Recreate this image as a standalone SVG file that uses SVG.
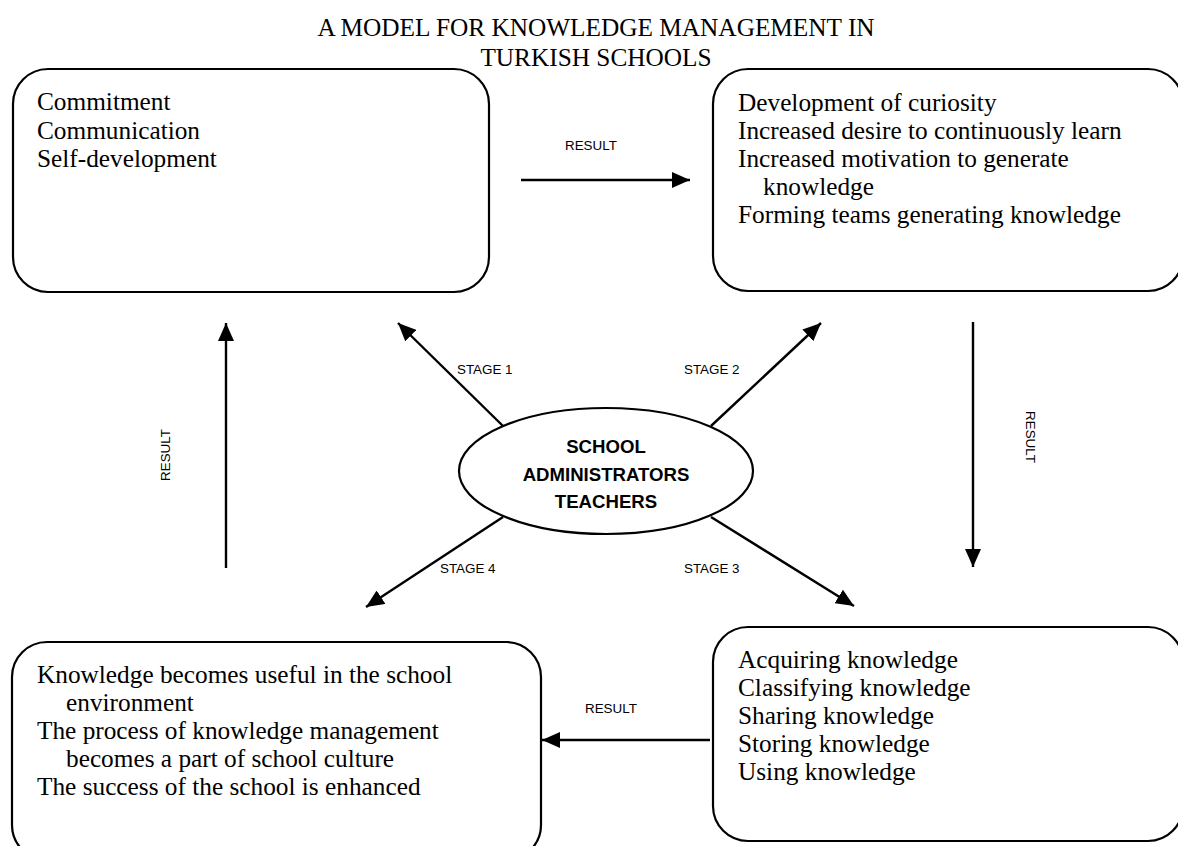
<svg xmlns="http://www.w3.org/2000/svg" width="1178" height="846" viewBox="0 0 1178 846">
<style>
.box{fill:#fff;stroke:#000;stroke-width:2.2}
.serif{font-family:"Liberation Serif","Times New Roman",serif;font-size:25.3px;fill:#000}
.lbl{font-family:"Liberation Sans",Arial,sans-serif;font-size:13.4px;fill:#000}
.ctr{font-family:"Liberation Sans",Arial,sans-serif;font-size:18.6px;font-weight:bold;fill:#000;text-anchor:middle}
.conn{stroke:#000;stroke-width:2.4;fill:none}
</style>
<defs>
<marker id="ah" viewBox="0 0 18 16" refX="18" refY="8" markerWidth="18" markerHeight="16" markerUnits="userSpaceOnUse" orient="auto">
<path d="M0,0 L18,8 L0,16 z" fill="#000"/>
</marker>
</defs>
<rect width="1178" height="846" fill="#fff"/>
<g id="title">
<text class="serif" x="596" y="36" text-anchor="middle">A MODEL FOR KNOWLEDGE MANAGEMENT IN</text>
<text class="serif" x="596" y="66" text-anchor="middle">TURKISH SCHOOLS</text>
</g>
<g id="connectors">
<line class="conn" x1="521" y1="180" x2="690" y2="180" marker-end="url(#ah)"/>
<line class="conn" x1="973" y1="322" x2="973" y2="567" marker-end="url(#ah)"/>
<line class="conn" x1="710" y1="740" x2="542" y2="740" marker-end="url(#ah)"/>
<line class="conn" x1="226" y1="568" x2="226" y2="323" marker-end="url(#ah)"/>
<line class="conn" x1="503" y1="426" x2="398" y2="323" marker-end="url(#ah)"/>
<line class="conn" x1="711" y1="426" x2="821" y2="323" marker-end="url(#ah)"/>
<line class="conn" x1="711" y1="517" x2="854" y2="606" marker-end="url(#ah)"/>
<line class="conn" x1="503" y1="517" x2="366" y2="607" marker-end="url(#ah)"/>
<text class="lbl" x="565" y="150">RESULT</text>
<text class="lbl" x="585" y="713">RESULT</text>
<text class="lbl" transform="translate(1026,437) rotate(90)" text-anchor="middle">RESULT</text>
<text class="lbl" transform="translate(170,455) rotate(-90)" text-anchor="middle">RESULT</text>
<text class="lbl" x="457" y="374">STAGE 1</text>
<text class="lbl" x="684" y="374">STAGE 2</text>
<text class="lbl" x="684" y="573">STAGE 3</text>
<text class="lbl" x="440" y="573">STAGE 4</text>
</g>
<g id="node-top-left">
<rect class="box" x="13" y="69" width="476" height="223" rx="35" ry="35"/>
<text class="serif" x="37" y="110">Commitment</text>
<text class="serif" x="37" y="139">Communication</text>
<text class="serif" x="37" y="167">Self-development</text>
</g>
<g id="node-top-right">
<rect class="box" x="713" y="69" width="470" height="222" rx="35" ry="35"/>
<text class="serif" x="738" y="111">Development of curiosity</text>
<text class="serif" x="738" y="139">Increased desire to continuously learn</text>
<text class="serif" x="738" y="167">Increased motivation to generate</text>
<text class="serif" x="763" y="195">knowledge</text>
<text class="serif" x="738" y="223">Forming teams generating knowledge</text>
</g>
<g id="node-bottom-right">
<rect class="box" x="713" y="627" width="470" height="214" rx="35" ry="35"/>
<text class="serif" x="738" y="668">Acquiring knowledge</text>
<text class="serif" x="738" y="696">Classifying knowledge</text>
<text class="serif" x="738" y="724">Sharing knowledge</text>
<text class="serif" x="738" y="752">Storing knowledge</text>
<text class="serif" x="738" y="780">Using knowledge</text>
</g>
<g id="node-bottom-left">
<rect class="box" x="12" y="642" width="529" height="218" rx="35" ry="35"/>
<text class="serif" x="37" y="683">Knowledge becomes useful in the school</text>
<text class="serif" x="66" y="711">environment</text>
<text class="serif" x="37" y="739">The process of knowledge management</text>
<text class="serif" x="66" y="767">becomes a part of school culture</text>
<text class="serif" x="37" y="795">The success of the school is enhanced</text>
</g>
<g id="node-center">
<ellipse class="box" cx="606" cy="471" rx="147" ry="63"/>
<text class="ctr" x="606" y="453">SCHOOL</text>
<text class="ctr" x="606" y="481">ADMINISTRATORS</text>
<text class="ctr" x="606" y="508">TEACHERS</text>
</g>
</svg>
